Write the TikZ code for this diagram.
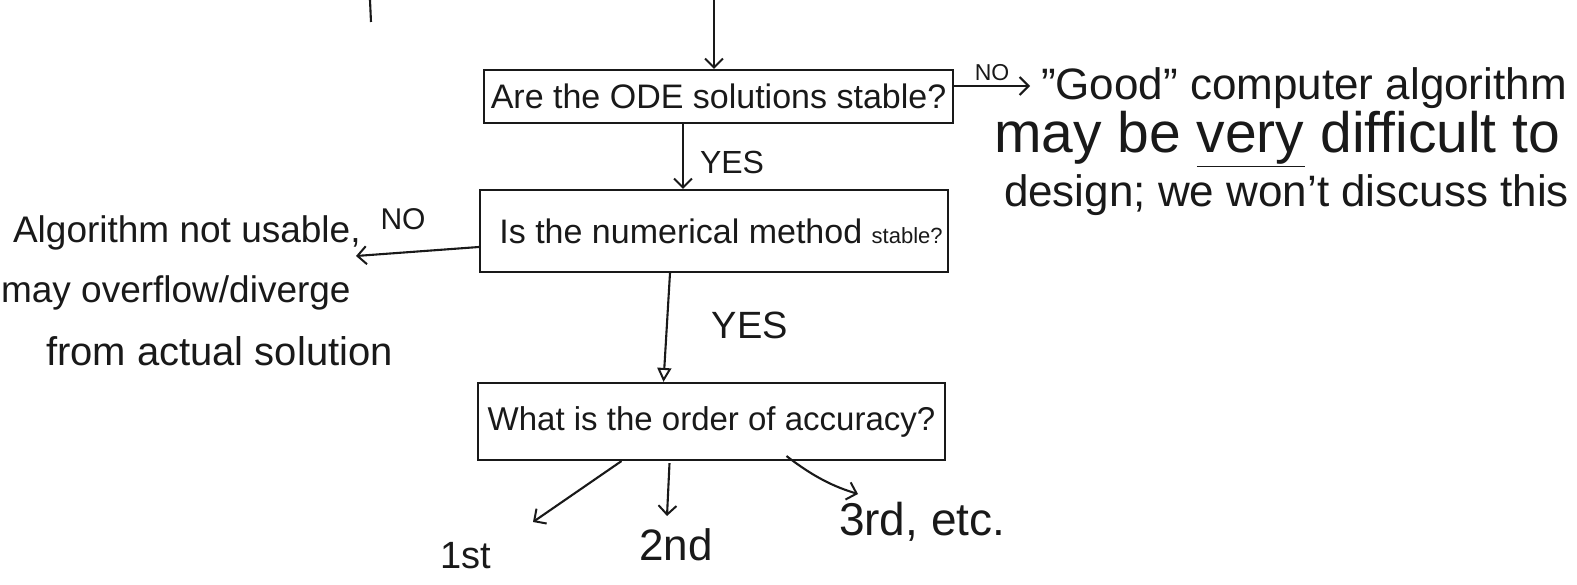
\documentclass[tikz,border=0pt]{standalone}
\usepackage{fontspec}
\setmainfont{Liberation Sans}
\usetikzlibrary{arrows.meta,calc}
\begin{document}
\begin{tikzpicture}[x=1pt,y=-1pt,line width=2.1pt,color=black!90,
  arr/.style={-{Straight Barb[length=9pt,width=18pt,line width=2pt]}},
  arrtri/.style={-{Triangle[open,length=14pt,width=14pt,line width=2pt]}},
  qbox/.style={draw,rectangle,inner sep=0pt},
  qtext/.style={font=\fontsize{34pt}{40pt}\selectfont},
  lbl/.style={inner sep=2pt},
  big/.style={anchor=base west,inner sep=0pt},
  side/.style={anchor=base west,inner sep=0pt,font=\fontsize{37pt}{44pt}\selectfont}]
\useasboundingbox (0,0) rectangle (1577,585);
% stray stroke from the previous page part
\draw (370,0) -- (371,22);
% boxes
\node[qbox,qtext,minimum width=469pt,minimum height=53pt] (b1) at (718.5,96.5)
  {Are the ODE solutions stable?};
\node[qbox,qtext,minimum width=468pt,minimum height=82pt] (b2) at (714,231)
  {\hspace*{14pt}Is the numerical method {\fontsize{22pt}{26pt}\selectfont stable?}};
\node[qbox,qtext,font=\fontsize{33pt}{40pt}\selectfont,minimum width=467pt,minimum height=77pt] (b3) at (711.5,421.5)
  {What is the order of accuracy?};
% right text
\node[big,font=\fontsize{44pt}{52pt}\selectfont] (g1) at (1040,100) {"Good" computer algorithm};
\node[big,font=\fontsize{57pt}{64pt}\selectfont] (g2) at (993,153) {may be \underline{very} difficult to};
\node[big,font=\fontsize{44pt}{52pt}\selectfont] (g3) at (1003,207) {design; we won't discuss this};
% left text
\node[side] (a1) at (12,243) {Algorithm not usable,};
\node[side] (a2) at (0,303) {may overflow/diverge};
\node[side,font=\fontsize{40pt}{46pt}\selectfont] (a3) at (45,366) {from actual solution};
% answers
\node[inner sep=0pt,anchor=base,font=\fontsize{38pt}{44pt}\selectfont] (o1) at (466,568) {1st};
\node[inner sep=0pt,anchor=base,font=\fontsize{44pt}{50pt}\selectfont] (o2) at (676,560) {2nd};
\node[inner sep=0pt,anchor=base west,font=\fontsize{46pt}{52pt}\selectfont] (o3) at (838,535) {3rd, etc.};
% connectors
\coordinate (topin) at (714,0);
\draw[arr] (topin) -- (topin |- b1.north);
\coordinate (noend) at (1030,86);
\draw[arr] (b1.east |- noend) -- (noend)
  node[midway,above,lbl,yshift=2pt,font=\fontsize{23pt}{26pt}\selectfont] {NO};
\coordinate (yx) at (683,0);
\draw[arr] (b1.south -| yx) -- (b2.north -| yx)
  node[midway,right,lbl,xshift=14pt,yshift=-6pt,font=\fontsize{32pt}{36pt}\selectfont] {YES};
\coordinate (noL) at (356,256);
\draw[arr] ([yshift=-16pt]b2.west) -- (noL);
\node[lbl,font=\fontsize{30pt}{36pt}\selectfont] (noLlbl) at (403,219) {NO};
\draw[arrtri] ($(b2.south)+(-44,0)$) -- ($(b3.north)+(-48,0)$);
\node[lbl,font=\fontsize{38pt}{44pt}\selectfont] (yes2) at (750,325) {YES};
\coordinate (t1) at (533,522);
\coordinate (t2) at (667,516);
\coordinate (t3) at (858,494);
\draw[arr] ($(b3.south)+(-90,0)$) -- (t1);
\draw[arr] ($(b3.south)+(-42,2)$) -- (t2);
\draw[arr] ($(b3.south)+(75,-5)$) .. controls (815,478) and (835,487) .. (t3);
\end{tikzpicture}
\end{document}
